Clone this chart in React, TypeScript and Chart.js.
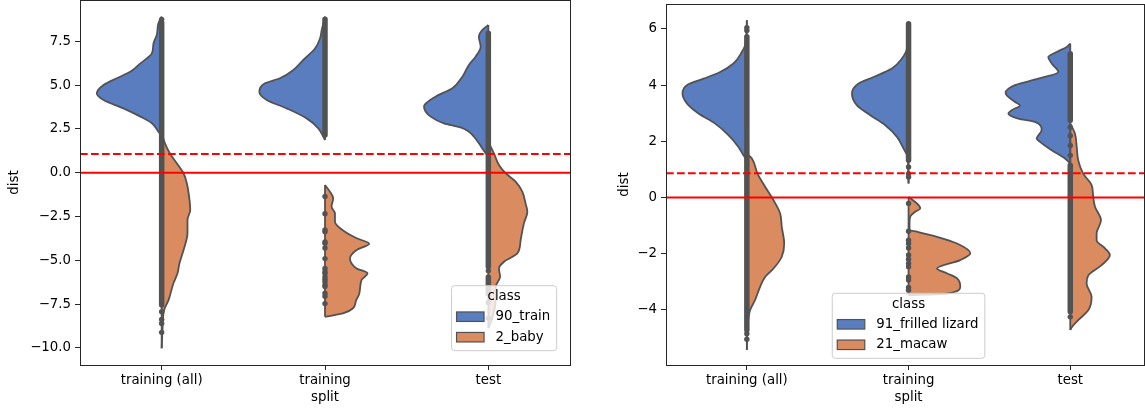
import React, { useEffect, useRef } from "react";
import { Chart, registerables } from "chart.js";
Chart.register(...registerables);

// ---------------- data ----------------
const CATEGORIES = ["training (all)", "training", "test"];
const CAT_INDEX = [0, 1, 2];

// left panel
const LEFT_CLASSES = ["90_train", "2_baby"];
const LEFT_Y_TICKS = [-10, -7.5, -5, -2.5, 0, 2.5, 5, 7.5];
const LEFT_THRESHOLD_DASHED = 1.07;
const LEFT_THRESHOLD_SOLID = 0;

const L_ALL_BLUE_Y = [8.9, 8.53, 7.86, 7.38, 6.81, 6.24, 5.77, 5.39, 5.0, 4.53, 4.15, 3.67, 3.2, 2.82, 2.34, 2.1];
const L_ALL_BLUE_W = [0, 0.02, 0.03, 0.05, 0.06, 0.13, 0.19, 0.275, 0.356, 0.397, 0.356, 0.234, 0.13, 0.06, 0.02, 0];
const L_ALL_ORANGE_Y = [2.25, 1.68, 1.11, 0.44, -0.03, -0.6, -1.37, -2.13, -2.7, -3.46, -4.41, -5.17, -5.74, -6.31, -7.27, -7.84, -8.98, -10.02];
const L_ALL_ORANGE_W = [0, 0.02, 0.05, 0.1, 0.134, 0.154, 0.168, 0.175, 0.158, 0.158, 0.134, 0.109, 0.097, 0.072, 0.042, 0.015, 0.005, 0];
const L_ALL_DENSE = [[-7.55, 8.55]];
const L_ALL_SINGLE = [8.75, -7.93, -8.37, -8.6, -9.11];

const L_TRAIN_BLUE_Y = [8.9, 8.14, 7.67, 7.1, 6.43, 5.86, 5.39, 5.1, 4.62, 4.15, 3.67, 3.1, 2.53, 1.87];
const L_TRAIN_BLUE_W = [0, 0.02, 0.03, 0.06, 0.133, 0.194, 0.276, 0.367, 0.402, 0.357, 0.235, 0.112, 0.041, 0];
const L_TRAIN_ORANGE_Y = [-0.7, -1.08, -1.46, -1.94, -2.32, -2.8, -3.37, -3.74, -4.05, -4.41, -4.89, -5.46, -5.74, -6.12, -6.9, -7.3, -7.75, -8.03, -8.18, -8.22];
const L_TRAIN_ORANGE_W = [0, 0.03, 0.05, 0.04, 0.061, 0.061, 0.122, 0.194, 0.27, 0.194, 0.153, 0.194, 0.26, 0.224, 0.21, 0.19, 0.17, 0.11, 0.025, 0];
const L_TRAIN_DENSE = [[2.15, 8.75]];
const L_TRAIN_SINGLE = [-1.36, -2.34, -3.27, -3.37, -3.95, -4.03, -4.3, -4.9, -5.47, -5.65, -5.74, -5.94, -6.08, -6.22, -6.41, -6.5, -6.88, -7.05, -7.47];

const L_TEST_BLUE_Y = [8.43, 8.14, 7.76, 7.19, 6.62, 6.15, 5.48, 4.82, 4.34, 3.77, 3.2, 2.82, 2.59, 2.34, 2.05, 1.68, 1.2, 0.91];
const L_TEST_BLUE_W = [0, 0.037, 0.058, 0.047, 0.078, 0.119, 0.159, 0.22, 0.323, 0.394, 0.353, 0.272, 0.17, 0.119, 0.088, 0.058, 0.023, 0];
const L_TEST_ORANGE_Y = [1.77, 1.11, 0.44, -0.03, -0.51, -1.08, -1.75, -2.23, -2.89, -3.84, -4.6, -5.08, -5.46, -5.94, -6.51, -7.27, -8.3, -8.87];
const L_TEST_ORANGE_W = [0, 0.034, 0.065, 0.106, 0.167, 0.208, 0.228, 0.239, 0.218, 0.198, 0.178, 0.096, 0.065, 0.072, 0.045, 0.045, 0.024, 0];
const L_TEST_DENSE = [[-5.37, 7.96], [-6.9, -5.95]];
const L_TEST_SINGLE = [-5.6, -7.4, -8.3];

// right panel
const RIGHT_CLASSES = ["91_frilled lizard", "21_macaw"];
const RIGHT_Y_TICKS = [-4, -2, 0, 2, 4, 6];
const RIGHT_THRESHOLD_DASHED = 0.865;
const RIGHT_THRESHOLD_SOLID = 0;

const R_ALL_BLUE_Y = [6.31, 5.48, 5.18, 4.77, 4.47, 4.23, 4.0, 3.7, 3.35, 2.99, 2.63, 2.22, 1.8, 1.5, 1.33];
const R_ALL_BLUE_W = [0, 0.008, 0.031, 0.083, 0.165, 0.268, 0.371, 0.398, 0.371, 0.299, 0.196, 0.114, 0.052, 0.021, 0];
const R_ALL_ORANGE_Y = [1.57, 1.39, 0.85, 0.38, -0.1, -0.57, -1.05, -1.64, -2.11, -2.53, -2.83, -3.18, -3.65, -4.01, -4.6, -5.43];
const R_ALL_ORANGE_W = [0, 0.031, 0.066, 0.113, 0.165, 0.206, 0.216, 0.231, 0.216, 0.165, 0.113, 0.082, 0.051, 0.02, 0.004, 0];
const R_ALL_DENSE = [[-4.72, 5.72]];
const R_ALL_SINGLE = [5.95, 6.05, -4.85, -5.05];

const R_TRAIN_BLUE_Y = [6.25, 5.3, 4.95, 4.59, 4.29, 4.06, 3.7, 3.28, 2.93, 2.57, 2.16, 1.74, 1.44, 0.9, 0.5];
const R_TRAIN_BLUE_W = [0, 0.01, 0.041, 0.103, 0.216, 0.309, 0.35, 0.319, 0.237, 0.144, 0.072, 0.031, 0.006, 0.002, 0];
const R_TRAIN_ORANGE_Y = [0.02, -0.07, -0.27, -0.39, -0.51, -0.69, -0.93, -1.16, -1.22, -1.4, -1.64, -1.99, -2.23, -2.53, -2.7, -2.88, -3.18, -3.42, -3.48];
const R_TRAIN_ORANGE_W = [0, 0.021, 0.062, 0.072, 0.041, 0.01, 0.006, 0.006, 0.052, 0.176, 0.3, 0.382, 0.32, 0.176, 0.237, 0.3, 0.32, 0.237, 0];
const R_TRAIN_DENSE = [[1.33, 6.19]];
const R_TRAIN_SINGLE = [1.09, 0.85, 0.73, -0.21, -1.2, -1.52, -1.64, -1.8, -2.05, -2.2, -2.35, -2.47, -2.83, -2.94, -3.2, -3.3];

const R_TEST_BLUE_Y = [5.48, 5.36, 5.18, 5.0, 4.77, 4.47, 4.23, 4.0, 3.72, 3.4, 3.28, 3.11, 2.99, 2.81, 2.69, 2.4, 2.1, 1.98, 1.68, 1.39, 1.21];
const R_TEST_BLUE_W = [0, 0.022, 0.084, 0.136, 0.115, 0.074, 0.198, 0.342, 0.4, 0.342, 0.311, 0.362, 0.383, 0.322, 0.218, 0.177, 0.208, 0.187, 0.115, 0.033, 0];
const R_TEST_ORANGE_Y = [2.63, 2.28, 1.8, 1.33, 0.85, 0.44, 0.02, -0.33, -0.81, -1.28, -1.52, -1.81, -2.05, -2.41, -2.77, -3.06, -3.54, -4.01, -4.37, -4.6, -4.72];
const R_TEST_ORANGE_W = [0, 0.029, 0.04, 0.049, 0.08, 0.132, 0.142, 0.153, 0.19, 0.163, 0.163, 0.215, 0.245, 0.194, 0.112, 0.101, 0.132, 0.112, 0.049, 0.012, 0];
const R_TEST_DENSE = [[2.75, 5.12], [-4.07, 1.15]];
const R_TEST_SINGLE = [2.5, 2.2, 1.85, 1.5, -4.25];

// ---------------- styles ----------------
const BLUE = "#597DBF";
const ORANGE = "#DA8B5F";
const GRAY = "#525252";
const RED = "#ff0000";
const AXIS = "#262626";
const FONT_FAMILY = "DejaVu Sans";
const FONT_SIZE = 13.33;
const FONT = `${FONT_SIZE}px "${FONT_FAMILY}"`;

type Half = { cat: number; side: number; y: number[]; w: number[]; color: string };
type Pts = { cat: number; dense: number[][]; single: number[] };

function buildDatasets(halves: Half[], pts: Pts[], dashed: number, solid: number, xMin: number, xMax: number) {
  const ds: any[] = [];
  halves.forEach((h) => {
    ds.push({
      type: "line",
      data: h.y.map((y, i) => ({ x: h.cat + h.side * h.w[i], y })),
      borderColor: GRAY,
      borderWidth: 1.8,
      backgroundColor: h.color,
      fill: { value: h.cat },
      pointRadius: 0,
      cubicInterpolationMode: "monotone",
      order: 5,
    });
    ds.push({
      type: "line",
      data: [
        { x: h.cat, y: h.y[0] },
        { x: h.cat, y: h.y[h.y.length - 1] },
      ],
      borderColor: GRAY,
      borderWidth: 1.8,
      pointRadius: 0,
      fill: false,
      tension: 0,
      order: 4,
    });
  });
  pts.forEach((p) => {
    p.dense.forEach(([lo, hi]) => {
      ds.push({
        type: "line",
        data: [
          { x: p.cat, y: lo },
          { x: p.cat, y: hi },
        ],
        borderColor: GRAY,
        borderWidth: 5.5,
        borderCapStyle: "round",
        pointRadius: 0,
        fill: false,
        tension: 0,
        order: 3,
      });
    });
    ds.push({
      type: "line",
      data: p.single.map((y) => ({ x: p.cat, y })),
      showLine: false,
      pointRadius: 2.7,
      pointBackgroundColor: GRAY,
      pointBorderWidth: 0,
      fill: false,
      tension: 0,
      order: 3,
    });
  });
  ds.push({
    type: "line",
    data: [
      { x: xMin, y: dashed },
      { x: xMax, y: dashed },
    ],
    borderColor: RED,
    borderWidth: 2,
    borderDash: [7.7, 3.3],
    pointRadius: 0,
    fill: false,
    tension: 0,
    order: 1,
  });
  ds.push({
    type: "line",
    data: [
      { x: xMin, y: solid },
      { x: xMax, y: solid },
    ],
    borderColor: RED,
    borderWidth: 2,
    pointRadius: 0,
    fill: false,
    tension: 0,
    order: 1,
  });
  return ds;
}

type PanelSpec = {
  halves: Half[];
  pts: Pts[];
  dashed: number;
  solid: number;
  yMin: number;
  yMax: number;
  xMax: number;
  yTicks: number[];
  decimals: number;
  yAxisWidth: number;
  padTop: number;
  padRight: number;
  yTitleX: number;
  classes: string[];
  legendMode: "lowerright" | "lowercenter";
};

function makePlugin(spec: PanelSpec) {
  return {
    id: "mplExtras",
    afterDatasetsDraw(chart: any) {
      const { ctx, chartArea } = chart;
      ctx.save();
      ctx.strokeStyle = AXIS;
      ctx.lineWidth = 1;
      const l = Math.floor(chartArea.left) + 0.5;
      const t = Math.floor(chartArea.top) + 0.5;
      const r = Math.floor(chartArea.right) + 0.5;
      const b = Math.floor(chartArea.bottom) + 0.5;
      ctx.strokeRect(l, t, r - l, b - t);
      ctx.restore();
    },
    afterDraw(chart: any) {
      const { ctx, chartArea, scales } = chart;
      ctx.save();
      ctx.font = FONT;
      ctx.fillStyle = "#000";
      ctx.textAlign = "center";
      ctx.textBaseline = "middle";
      ctx.fillText("split", scales.x.getPixelForValue(1), 398);
      ctx.save();
      ctx.translate(spec.yTitleX, (chartArea.top + chartArea.bottom) / 2);
      ctx.rotate(-Math.PI / 2);
      ctx.fillText("dist", 0, 0);
      ctx.restore();

      // legend
      const tw = Math.max(...spec.classes.map((c) => ctx.measureText(c).width));
      const w = 44 + tw + 6.5;
      const h = 65;
      let left: number;
      let bottom: number;
      if (spec.legendMode === "lowerright") {
        left = chartArea.right - 13.3 - w;
        bottom = chartArea.bottom - 14.3;
      } else {
        left = scales.x.getPixelForValue(1) - w / 2;
        bottom = chartArea.bottom - 6.7;
      }
      const top = bottom - h;
      ctx.beginPath();
      if ((ctx as any).roundRect) (ctx as any).roundRect(left, top, w, h, 3);
      else ctx.rect(left, top, w, h);
      ctx.fillStyle = "rgba(255,255,255,0.8)";
      ctx.fill();
      ctx.strokeStyle = "#cccccc";
      ctx.lineWidth = 1;
      ctx.stroke();
      ctx.fillStyle = "#000";
      ctx.textAlign = "center";
      ctx.fillText("class", left + w / 2, top + 11);
      const colors = [BLUE, ORANGE];
      spec.classes.forEach((c, i) => {
        const cy = top + 31 + i * 20.5;
        ctx.fillStyle = colors[i];
        ctx.fillRect(left + 5, cy - 4.75, 27.5, 9.5);
        ctx.strokeStyle = GRAY;
        ctx.lineWidth = 1.2;
        ctx.strokeRect(left + 5, cy - 4.75, 27.5, 9.5);
        ctx.fillStyle = "#000";
        ctx.textAlign = "left";
        ctx.fillText(c, left + 44, cy);
      });
      ctx.restore();
    },
  };
}

function fmtTick(v: number, d: number) {
  return v.toFixed(d).replace("-", "\u2212");
}

function makeConfig(spec: PanelSpec): any {
  const xMin = -0.5;
  const tickFont = { family: FONT_FAMILY, size: FONT_SIZE };
  return {
    type: "line",
    data: { datasets: buildDatasets(spec.halves, spec.pts, spec.dashed, spec.solid, xMin, spec.xMax) },
    options: {
      animation: false,
      responsive: false,
      indexAxis: "y",
      events: [],
      layout: { autoPadding: false, padding: { top: spec.padTop, right: spec.padRight, left: 0, bottom: 0 } },
      plugins: { legend: { display: false }, tooltip: { enabled: false } },
      scales: {
        x: {
          type: "linear",
          position: "bottom",
          min: xMin,
          max: spec.xMax,
          afterBuildTicks: (ax: any) => {
            ax.ticks = CAT_INDEX.map((value) => ({ value }));
          },
          afterFit: (s: any) => {
            s.height = 45;
            s.paddingLeft = 0;
            s.paddingRight = 0;
          },
          grid: { drawOnChartArea: false, drawTicks: true, tickLength: 5, color: AXIS, lineWidth: 1 },
          border: { display: false },
          ticks: {
            callback: (v: number) => CATEGORIES[Math.round(v)],
            font: tickFont,
            color: "#000",
            padding: 3,
            autoSkip: false,
            maxRotation: 0,
            minRotation: 0,
          },
        },
        y: {
          type: "linear",
          position: "left",
          min: spec.yMin,
          max: spec.yMax,
          afterBuildTicks: (ax: any) => {
            ax.ticks = spec.yTicks.map((value) => ({ value }));
          },
          afterFit: (s: any) => {
            s.width = spec.yAxisWidth;
            s.paddingTop = 0;
            s.paddingBottom = 0;
          },
          grid: { drawOnChartArea: false, drawTicks: true, tickLength: 5, color: AXIS, lineWidth: 1 },
          border: { display: false },
          ticks: {
            callback: (v: number) => fmtTick(v, spec.decimals),
            font: tickFont,
            color: "#000",
            padding: 4,
            autoSkip: false,
          },
        },
      },
    },
    plugins: [makePlugin(spec)],
  };
}

const LEFT_SPEC: PanelSpec = {
  halves: [
    { cat: 0, side: -1, y: L_ALL_BLUE_Y, w: L_ALL_BLUE_W, color: BLUE },
    { cat: 0, side: 1, y: L_ALL_ORANGE_Y, w: L_ALL_ORANGE_W, color: ORANGE },
    { cat: 1, side: -1, y: L_TRAIN_BLUE_Y, w: L_TRAIN_BLUE_W, color: BLUE },
    { cat: 1, side: 1, y: L_TRAIN_ORANGE_Y, w: L_TRAIN_ORANGE_W, color: ORANGE },
    { cat: 2, side: -1, y: L_TEST_BLUE_Y, w: L_TEST_BLUE_W, color: BLUE },
    { cat: 2, side: 1, y: L_TEST_ORANGE_Y, w: L_TEST_ORANGE_W, color: ORANGE },
  ],
  pts: [
    { cat: 0, dense: L_ALL_DENSE, single: L_ALL_SINGLE },
    { cat: 1, dense: L_TRAIN_DENSE, single: L_TRAIN_SINGLE },
    { cat: 2, dense: L_TEST_DENSE, single: L_TEST_SINGLE },
  ],
  dashed: LEFT_THRESHOLD_DASHED,
  solid: LEFT_THRESHOLD_SOLID,
  yMin: -10.972,
  yMax: 9.854,
  xMax: 2.5,
  yTicks: LEFT_Y_TICKS,
  decimals: 1,
  yAxisWidth: 80,
  padTop: 0,
  padRight: 5,
  yTitleX: 15,
  classes: LEFT_CLASSES,
  legendMode: "lowerright",
};

const RIGHT_SPEC: PanelSpec = {
  halves: [
    { cat: 0, side: -1, y: R_ALL_BLUE_Y, w: R_ALL_BLUE_W, color: BLUE },
    { cat: 0, side: 1, y: R_ALL_ORANGE_Y, w: R_ALL_ORANGE_W, color: ORANGE },
    { cat: 1, side: -1, y: R_TRAIN_BLUE_Y, w: R_TRAIN_BLUE_W, color: BLUE },
    { cat: 1, side: 1, y: R_TRAIN_ORANGE_Y, w: R_TRAIN_ORANGE_W, color: ORANGE },
    { cat: 2, side: -1, y: R_TEST_BLUE_Y, w: R_TEST_BLUE_W, color: BLUE },
    { cat: 2, side: 1, y: R_TEST_ORANGE_Y, w: R_TEST_ORANGE_W, color: ORANGE },
  ],
  pts: [
    { cat: 0, dense: R_ALL_DENSE, single: R_ALL_SINGLE },
    { cat: 1, dense: R_TRAIN_DENSE, single: R_TRAIN_SINGLE },
    { cat: 2, dense: R_TEST_DENSE, single: R_TEST_SINGLE },
  ],
  dashed: RIGHT_THRESHOLD_DASHED,
  solid: RIGHT_THRESHOLD_SOLID,
  yMin: -5.965,
  yMax: 6.89,
  xMax: 2.456,
  yTicks: RIGHT_Y_TICKS,
  decimals: 0,
  yAxisWidth: 81,
  padTop: 4,
  padRight: 1,
  yTitleX: 40,
  classes: RIGHT_CLASSES,
  legendMode: "lowercenter",
};

function Panel({ spec, width, left }: { spec: PanelSpec; width: number; left: number }) {
  const ref = useRef<HTMLCanvasElement | null>(null);
  useEffect(() => {
    if (!ref.current) return;
    const chart = new Chart(ref.current, makeConfig(spec));
    return () => chart.destroy();
  }, [spec]);
  return (
    <div style={{ position: "absolute", left, top: 0, width, height: 410 }}>
      <canvas ref={ref} width={width} height={410} style={{ display: "block" }} />
    </div>
  );
}

export default function App() {
  return (
    <div style={{ position: "absolute", left: 0, top: 0, width: 1145, height: 410, background: "#fff", overflow: "hidden" }}>
      <Panel spec={LEFT_SPEC} width={575} left={0} />
      <Panel spec={RIGHT_SPEC} width={560} left={585} />
    </div>
  );
}
